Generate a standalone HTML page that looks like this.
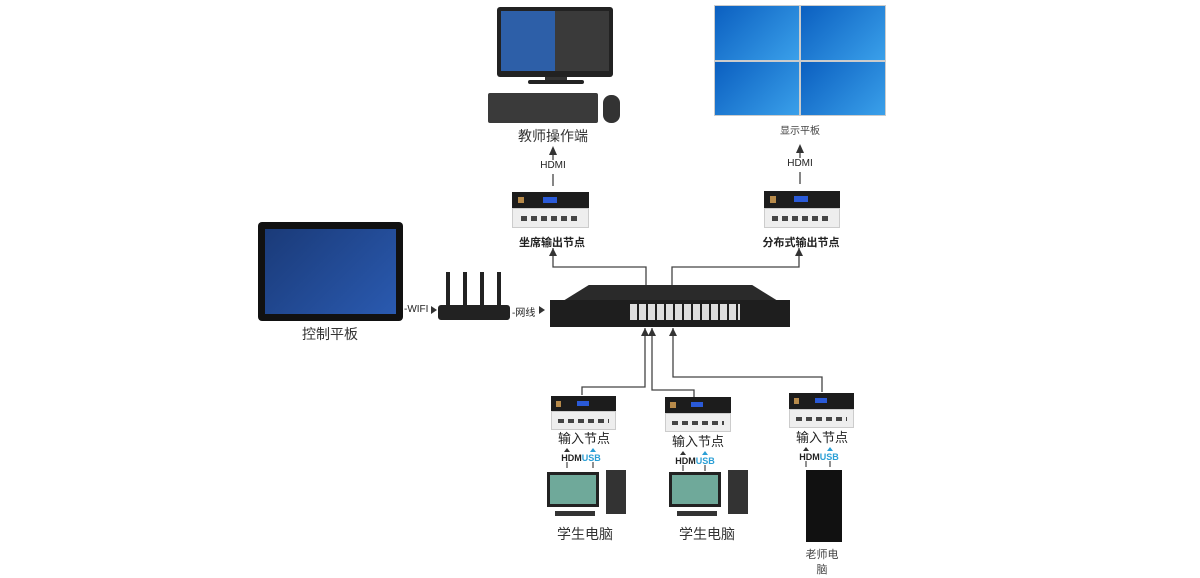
<!DOCTYPE html>
<html><head><meta charset="utf-8"><style>
*{margin:0;padding:0;box-sizing:border-box}
body{width:1200px;height:578px;background:#fff;position:relative;overflow:hidden;font-family:"Liberation Sans","Noto Sans CJK SC",sans-serif;color:#222}
.a{position:absolute}
.t{position:absolute;transform:translateX(-50%);white-space:nowrap}
.node{position:absolute}
.node .top{position:absolute;left:0;right:0;top:0;height:45%;background:#1c1c1c}
.node .top:before{content:"";position:absolute;left:8%;top:30%;width:8%;height:40%;background:#b78a4a}
.node .top:after{content:"";position:absolute;left:40%;top:30%;width:18%;height:35%;background:#2a5ad8}
.node .bot{position:absolute;left:0;right:0;top:45%;bottom:0;background:#eee;border:1px solid #ccc}
.node .bot:before{content:"";position:absolute;left:10%;right:10%;top:40%;height:25%;background:repeating-linear-gradient(90deg,#444 0 6px,#eee 6px 10px)}
</style></head><body>
<svg class="a" style="left:0;top:0" width="1200" height="578">
<g stroke="#444" stroke-width="1.3" fill="none">
<line x1="553" y1="186" x2="553" y2="153"/>
<line x1="800" y1="184" x2="800" y2="151"/>
<path d="M646 285 V267 H553 V248"/>
<path d="M672 285 V267 H799 V248"/>
<path d="M645 328 V387 H582 V395"/>
<path d="M652 328 V390 H694 V397"/>
<path d="M673 328 V377 H822 V392"/>
<path d="M567 462 V468 M593 462 V468 M683 465 V471 M705 465 V471 M806 461 V467 M830 461 V467" stroke="#555"/>
</g>
<g fill="#333">
<path d="M549 155 L553 146 L557 155Z"/><path d="M796 153 L800 144 L804 153Z"/>
<path d="M549 256 L553 248 L557 256Z"/><path d="M795 256 L799 248 L803 256Z"/>
<path d="M641 336 L645 328 L649 336Z"/><path d="M648 336 L652 328 L656 336Z"/><path d="M669 336 L673 328 L677 336Z"/>
<path d="M431 306 L437 310 L431 314Z"/><path d="M539 306 L545 310 L539 314Z"/>
<path d="M564 452 L567 448 L570 452Z"/><path d="M680 455 L683 451 L686 455Z"/><path d="M803 451 L806 447 L809 451Z"/>
</g>
<g fill="#2a9fd6"><path d="M590 452 L593 448 L596 452Z"/><path d="M702 455 L705 451 L708 455Z"/><path d="M827 451 L830 447 L833 451Z"/></g>
<rect x="546" y="160" width="14" height="14" fill="#fff"/><rect x="793" y="158" width="14" height="14" fill="#fff"/>
</svg>
<div class="t" style="left:553px;top:160px;font-size:10px">HDMI</div>
<div class="t" style="left:800px;top:158px;font-size:10px">HDMI</div>
<div class="a" style="left:497px;top:7px;width:116px;height:70px;background:#222;border-radius:3px"></div>
<div class="a" style="left:501px;top:11px;width:108px;height:60px;background:linear-gradient(90deg,#2d5fa8 0 50%,#3a3a3a 50%)"></div>
<div class="a" style="left:545px;top:77px;width:22px;height:5px;background:#333"></div>
<div class="a" style="left:528px;top:80px;width:56px;height:4px;background:#222;border-radius:2px"></div>
<div class="a" style="left:488px;top:93px;width:110px;height:30px;background:#3a3a3a;border-radius:2px"></div>
<div class="a" style="left:603px;top:95px;width:17px;height:28px;background:#333;border-radius:8px"></div>
<div class="t" style="left:553px;top:126px;font-size:14px;color:#333">教师操作端</div>
<div class="a" style="left:714px;top:5px;width:172px;height:111px;background:#ccc;display:grid;grid-template-columns:1fr 1fr;gap:2px;padding:1px">
<div style="background:linear-gradient(135deg,#0b5fc0,#3aa0ea)"></div><div style="background:linear-gradient(135deg,#0b5fc0,#3aa0ea)"></div><div style="background:linear-gradient(135deg,#0b5fc0,#3aa0ea)"></div><div style="background:linear-gradient(135deg,#0b5fc0,#3aa0ea)"></div></div>
<div class="t" style="left:800px;top:122px;font-size:10px;color:#444">显示平板</div>
<div class="node" style="left:512px;top:192px;width:77px;height:36px"><div class="top"></div><div class="bot"></div></div>
<div class="t" style="left:552px;top:234px;font-size:11px;font-weight:bold">坐席输出节点</div>
<div class="node" style="left:764px;top:191px;width:76px;height:37px"><div class="top"></div><div class="bot"></div></div>
<div class="t" style="left:801px;top:234px;font-size:11px;font-weight:bold">分布式输出节点</div>
<div class="a" style="left:258px;top:222px;width:145px;height:99px;background:#111;border-radius:4px"></div>
<div class="a" style="left:265px;top:229px;width:131px;height:85px;background:linear-gradient(135deg,#1a3a78,#2a5ab0)"></div>
<div class="t" style="left:330px;top:324px;font-size:14px;color:#333">控制平板</div>
<div class="a" style="left:404px;top:304px;font-size:10px">-WIFI</div>
<div class="a" style="left:438px;top:305px;width:72px;height:15px;background:#222;border-radius:3px"></div>
<div class="a" style="left:446px;top:272px;width:4px;height:35px;background:#222"></div>
<div class="a" style="left:463px;top:272px;width:4px;height:35px;background:#222"></div>
<div class="a" style="left:480px;top:272px;width:4px;height:35px;background:#222"></div>
<div class="a" style="left:497px;top:272px;width:4px;height:35px;background:#222"></div>
<div class="a" style="left:512px;top:304px;font-size:10px">-网线</div>
<div class="a" style="left:563px;top:285px;width:215px;height:16px;background:#2a2a2a;clip-path:polygon(12% 0,88% 0,100% 100%,0 100%)"></div>
<div class="a" style="left:550px;top:300px;width:240px;height:27px;background:#1e1e1e"></div>
<div class="a" style="left:630px;top:304px;width:110px;height:16px;background:repeating-linear-gradient(90deg,#ddd 0 7px,#1e1e1e 7px 9px)"></div>
<div class="node" style="left:551px;top:396px;width:65px;height:34px"><div class="top"></div><div class="bot"></div></div>
<div class="node" style="left:665px;top:397px;width:66px;height:35px"><div class="top"></div><div class="bot"></div></div>
<div class="node" style="left:789px;top:393px;width:65px;height:35px"><div class="top"></div><div class="bot"></div></div>
<div class="t" style="left:584px;top:431px;font-size:13px;line-height:16px">输入节点</div>
<div class="t" style="left:698px;top:434px;font-size:13px;line-height:16px">输入节点</div>
<div class="t" style="left:822px;top:430px;font-size:13px;line-height:16px">输入节点</div>
<div class="t" style="left:581px;top:453px;font-size:9px;line-height:10px;font-weight:bold">HDM<span style="color:#2a9fd6">USB</span></div>
<div class="t" style="left:695px;top:456px;font-size:9px;line-height:10px;font-weight:bold">HDM<span style="color:#2a9fd6">USB</span></div>
<div class="t" style="left:819px;top:452px;font-size:9px;line-height:10px;font-weight:bold">HDM<span style="color:#2a9fd6">USB</span></div>
<div class="a" style="left:547px;top:472px;width:52px;height:35px;background:#6fa99a;border:3px solid #222"></div>
<div class="a" style="left:606px;top:470px;width:20px;height:44px;background:#333"></div>
<div class="a" style="left:555px;top:511px;width:40px;height:5px;background:#333"></div>
<div class="a" style="left:669px;top:472px;width:52px;height:35px;background:#6fa99a;border:3px solid #222"></div>
<div class="a" style="left:728px;top:470px;width:20px;height:44px;background:#333"></div>
<div class="a" style="left:677px;top:511px;width:40px;height:5px;background:#333"></div>
<div class="t" style="left:585px;top:524px;font-size:14px;color:#333">学生电脑</div>
<div class="t" style="left:707px;top:524px;font-size:14px;color:#333">学生电脑</div>
<div class="a" style="left:806px;top:470px;width:36px;height:72px;background:#111"></div>
<div class="t" style="left:822px;top:548px;font-size:11px;color:#444;line-height:15px;text-align:center">老师电<br>脑</div>
</body></html>
